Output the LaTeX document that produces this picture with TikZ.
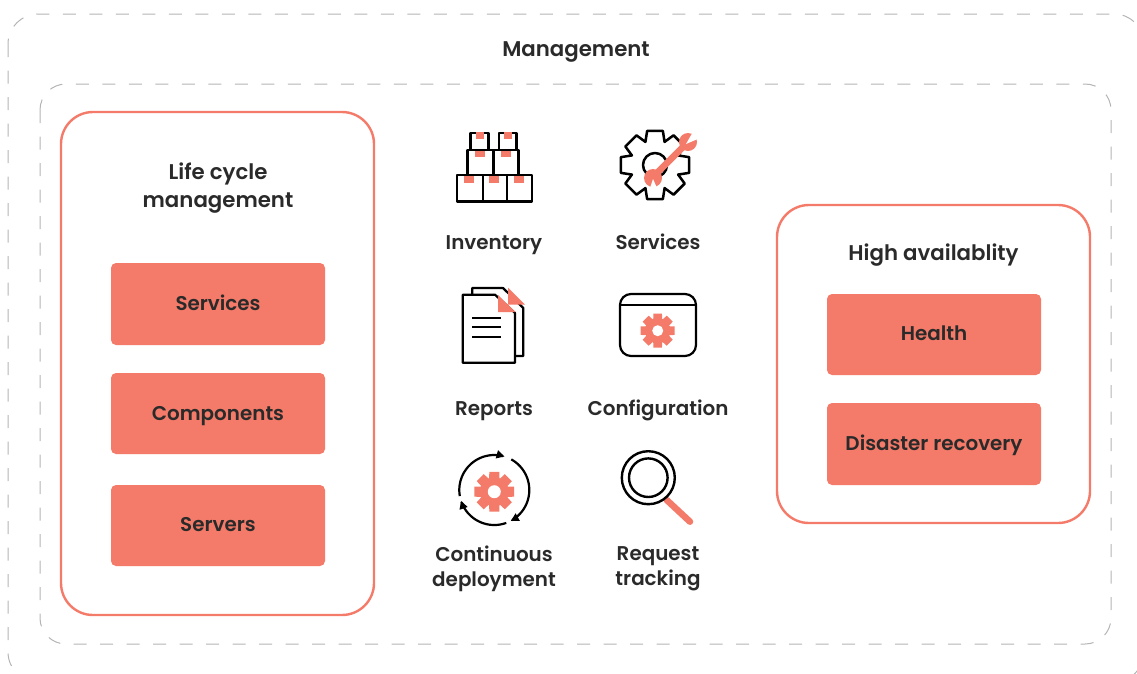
\documentclass[tikz,border=0pt]{standalone}
\usepackage{fontspec}
\setmainfont{Poppins}[UprightFont=* Medium,BoldFont=* SemiBold]
\usetikzlibrary{arrows.meta}
\definecolor{sal}{HTML}{F47B69}
\definecolor{ink}{HTML}{2A2A2A}
\definecolor{dashg}{HTML}{B4B4B4}
\tikzset{
  x=1pt,y=-1pt,
  dashbox/.style={draw=dashg,line width=1pt,dash pattern=on 13pt off 13.5pt},
  panel/.style={draw=sal,line width=2.4pt,rounded corners=32pt,fill=white},
  salbox/.style={fill=sal,rounded corners=5pt,draw=none},
  lab/.style={font=\fontsize{21.3}{28}\selectfont\bfseries,text=ink,align=center,inner sep=0pt},
  sm/.style={font=\fontsize{19.9}{25}\selectfont\bfseries,text=ink,align=center,inner sep=0pt},
  ic/.style={draw=black,line width=2.5pt,line join=round},
  tab/.style={fill=sal,draw=none},
  cyc/.style={draw=black,line width=2.2pt,-{Triangle[length=8pt,width=8pt]}},
}
% cog path: cx cy router rbase halfOut halfBase
\newcommand{\cogpath}[6]{
  ({#1+#4*cos(-#6)},{#2+#4*sin(-#6)})
  \foreach \a in {0,45,...,315}{
    -- ({#1+#4*cos(\a-#6)},{#2+#4*sin(\a-#6)}) -- ({#1+#3*cos(\a-#5)},{#2+#3*sin(\a-#5)}) -- ({#1+#3*cos(\a+#5)},{#2+#3*sin(\a+#5)}) -- ({#1+#4*cos(\a+#6)},{#2+#4*sin(\a+#6)})
  } -- cycle
}
\begin{document}
\begin{tikzpicture}
\useasboundingbox (0,0) rectangle (1137,673);
\begin{scope}
\clip (0,0) rectangle (1137,673);
\draw[dashbox,rounded corners=30pt] (8,14) rectangle (1144,682);
\end{scope}
\draw[dashbox,rounded corners=26pt] (40,84) rectangle (1111,644);
\node[lab,anchor=base] (mgmt) at (576,56) {Management};
\draw[panel] (61,112) rectangle (374,615);
\node[lab] (lcm) at (218,188.5) {Life cycle\\management};
\node[salbox,minimum width=214pt,minimum height=82pt] (b1) at (218,304) {};
\node[salbox,minimum width=214pt,minimum height=81pt] (b2) at (218,413.5) {};
\node[salbox,minimum width=214pt,minimum height=81pt] (b3) at (218,525.5) {};
\node[sm,anchor=base] at (218,310) {Services};
\node[sm,anchor=base] at (218,420) {Components};
\node[sm,anchor=base] at (218,531) {Servers};
\draw[panel] (777,205) rectangle (1090,523);
\node[lab,anchor=base] (ha) at (933.5,260) {High availablity};
\node[salbox,minimum width=214pt,minimum height=81pt] (r1) at (934,334.5) {};
\node[salbox,minimum width=214pt,minimum height=82pt] (r2) at (934,444) {};
\node[sm,anchor=base] at (934,340) {Health};
\node[sm,anchor=base] at (934,450) {Disaster recovery};
% Inventory icon
\foreach \p/\q/\r/\s in {457/483/175/201.5,483/507/175/201.5,507/532/175/201.5,467.5/493.5/150/175,493.5/518.5/150/175,470.5/488.5/133/150,499/516.5/133/150}
  \draw[ic] (\p,\r) rectangle (\q,\s);
\foreach \p/\q/\r/\s in {476/483.5/132/138.5,504/511.5/132/138.5,475/485/151/157,501/511/151/157,463.5/473.5/176/182.5,488.5/498.5/176/182.5,514/524/176/182.5}
  \fill[tab] (\p,\r) rectangle (\q,\s);
% Services gear
\draw[ic] \cogpath{655}{165}{35}{25}{13}{22.5};
\draw[ic] (655,165) circle[radius=12];
\draw[sal,line width=6.5pt] (653,177) -- (687,143);
\fill[sal] (653,178) circle[radius=9];
\fill[sal] (688,142) circle[radius=9];
\fill[white] (686,144) -- (694,130) -- (700,138) -- cycle;
\fill[white] (650,188) -- (653,179) -- (657,188) -- cycle;
% Reports icon
\draw[ic,line width=2.2pt] (472.3,294.7) -- (472.3,288) -- (503,288) -- (523.3,308) -- (523.3,356) -- (515,356);
\draw[ic,line width=2.2pt,fill=white] (462.7,294.7) -- (495,294.7) -- (515,313) -- (515,362.7) -- (462.7,362.7) -- cycle;
\fill[sal] (498,295) -- (515.5,312) -- (498,312) -- cycle;
\fill[sal] (508,287.5) -- (525,304.5) -- (508,304.5) -- cycle;
\foreach \y in {318,326.7,337} \draw[black,line width=2.2pt] (472.3,\y) -- (500.7,\y);
% Configuration icon
\draw[ic,line width=2.2pt,rounded corners=11pt] (620,294) rectangle (696,356);
\draw[ic,line width=2.2pt] (620,305) -- (696,305);
\fill[sal] \cogpath{657.7}{330.7}{17.5}{12.5}{14}{21};
\fill[white] (657.7,330.7) circle[radius=5.5];
% Continuous deployment icon
\fill[sal] \cogpath{494.3}{491.7}{20.5}{14.5}{14}{21};
\fill[white] (494.3,491.7) circle[radius=6.5];
\draw[cyc] plot[domain=190:73,samples=40,smooth] ({494.3+35*cos(\x)},{490-35*sin(\x)});
\draw[cyc] plot[domain=61:-62,samples=40,smooth] ({494.3+35*cos(\x)},{490-35*sin(\x)});
\draw[cyc] plot[domain=-70:-162,samples=40,smooth] ({494.3+35*cos(\x)},{490-35*sin(\x)});
% Request tracking icon
\draw[sal,line width=6.5pt,line cap=round] (666.7,500) -- (690,521.7);
\draw[ic,line width=2.4pt,fill=white] (648.3,477.7) circle[radius=26.5];
\draw[ic,line width=2.4pt] (648.3,477.7) circle[radius=19.3];
% Labels
\node[sm,anchor=base] at (494,249) {Inventory};
\node[sm,anchor=base] at (658,249) {Services};
\node[sm,anchor=base] at (494,415) {Reports};
\node[sm,anchor=base] at (658,415) {Configuration};
\node[sm] at (494,568.5) {Continuous\\deployment};
\node[sm] at (658,568.5) {Request\\tracking};
\end{tikzpicture}
\end{document}
